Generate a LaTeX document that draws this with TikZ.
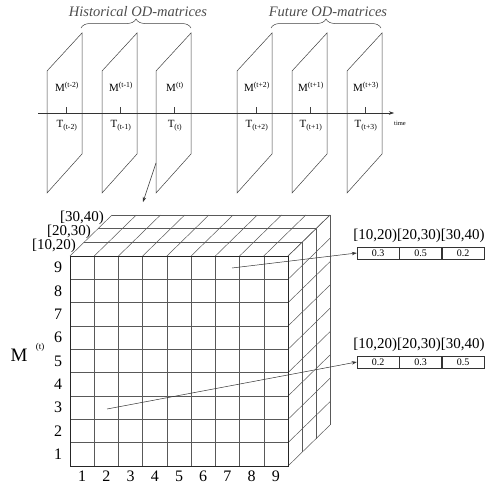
\documentclass[tikz,border=0pt]{standalone}
\usepackage{fontspec}
\setmainfont{Liberation Serif}
\usetikzlibrary{arrows.meta,decorations.pathreplacing}
\tikzset{
  plane/.style={draw=black!75,line width=0.5pt},
  grid/.style={draw=black!65,line width=0.5pt},
  frame/.style={draw=black!85,line width=0.6pt},
  conn/.style={draw=black!80,line width=0.5pt,-{Stealth[length=5pt,width=3.5pt]}},
  brace/.style={draw=black!75,line width=0.5pt,decorate,decoration={brace,amplitude=9pt}},
  cell/.style={draw=black!80,line width=0.5pt,minimum width=42pt,minimum height=12pt,inner sep=0pt,font=\fontsize{10}{10}\selectfont},
  lab/.style={inner sep=0pt,font=\fontsize{15}{15}\selectfont},
  num/.style={inner sep=0pt,font=\fontsize{16}{16}\selectfont},
  mlab/.style={inner sep=0pt,font=\fontsize{11}{11}\selectfont},
  ttl/.style={inner sep=0pt,text=black!70,font=\fontsize{14.5}{14.5}\selectfont\itshape}
}
\begin{document}
\begin{tikzpicture}[x=1pt,y=-1pt]
\useasboundingbox (0,0) rectangle (486,485);
% ---- time axis and planes ----
\foreach \l in {47,102,156,237,292,347}{
  \draw[plane] (\l,71) -- (\l,193) -- (\l+35,154) -- (\l+35,33) -- cycle;
}
\coordinate (ax0) at (38,113);
\coordinate (ax1) at (394,113);
\draw[conn] (ax0) -- (ax1);
\node[inner sep=0pt,font=\fontsize{6.5}{6.5}\selectfont] (time) at (400,123) {time};
\foreach \x/\s/\i in {66/t-2/1,120/t-1/2,174/t/3,256/t+2/4,310/t+1/5,365/t+3/6}{
  \draw[plane] (\x,107) -- (\x,113);
  \node[mlab] (m\i) at (\x+1,87) {M\textsuperscript{(\s)}};
  \node[mlab] (t\i) at (\x+1,126) {T\textsubscript{(\s)}};
}
\draw[brace] (81,28) -- (191,28);
\draw[brace] (271,28) -- (381,28);
\node[ttl] (hist) at (138,12) {Historical OD-matrices};
\node[ttl] (fut) at (328,12) {Future OD-matrices};
\coordinate (pm) at (156,163);
\coordinate (pc) at (143,202);
\draw[conn] (pm) -- (pc);
% ---- cube ----
\def\dx{14}\def\dy{13.67}
\foreach \i in {0,...,9}{
  \pgfmathsetmacro\xx{70+\i*24.222}
  \draw[grid] (\xx,256) -- (\xx+42,215);
  \pgfmathsetmacro\yy{256+\i*23.333}
  \draw[grid] (288,\yy) -- (330,\yy-41);
}
\foreach \k in {1,2,3}{
  \draw[grid] (70+\k*\dx,256-\k*\dy) -- (288+\k*\dx,256-\k*\dy);
  \draw[grid] (288+\k*\dx,256-\k*\dy) -- (288+\k*\dx,466-\k*\dy);
}
\foreach \i in {1,...,8}{
  \pgfmathsetmacro\xx{70+\i*24.222}
  \draw[grid] (\xx,256) -- (\xx,466);
  \pgfmathsetmacro\yy{256+\i*23.333}
  \draw[grid] (70,\yy) -- (288,\yy);
}
\draw[frame] (70,256) rectangle (288,466);
\foreach \i in {1,...,9}{
  \node[num] (xl\i) at (70+\i*24.222-12.1,476) {\i};
  \node[num] (yl\i) at (58,466-\i*23.333+11.67) {\i};
}
\node[lab,anchor=east] (d1) at (76,246) {[10,20)};
\node[lab,anchor=east] (d2) at (91,231.5) {[20,30)};
\node[lab,anchor=east] (d3) at (104,218) {[30,40)};
\node[inner sep=0pt,font=\fontsize{19}{19}\selectfont] (Mt) at (19,355) {M};
\node[inner sep=0pt,font=\fontsize{9}{9}\selectfont] (Mts) at (40,347) {(t)};
% ---- tables ----
\node[cell] (a1) at (378,253) {0.3};
\node[cell,anchor=west] (a2) at (a1.east) {0.5};
\node[cell,anchor=west] (a3) at (a2.east) {0.2};
\node[lab] (ha) at (419,236) {[10,20)[20,30)[30,40)};
\node[cell] (b1) at (378,362) {0.2};
\node[cell,anchor=west] (b2) at (b1.east) {0.3};
\node[cell,anchor=west] (b3) at (b2.east) {0.5};
\node[lab] (hb) at (419,345) {[10,20)[20,30)[30,40)};
\coordinate (c1) at (232,268);
\coordinate (c2) at (107,409);
\draw[conn] (c1) -- (a1.west);
\draw[conn] (c2) -- (b1.west);
\end{tikzpicture}
\end{document}
